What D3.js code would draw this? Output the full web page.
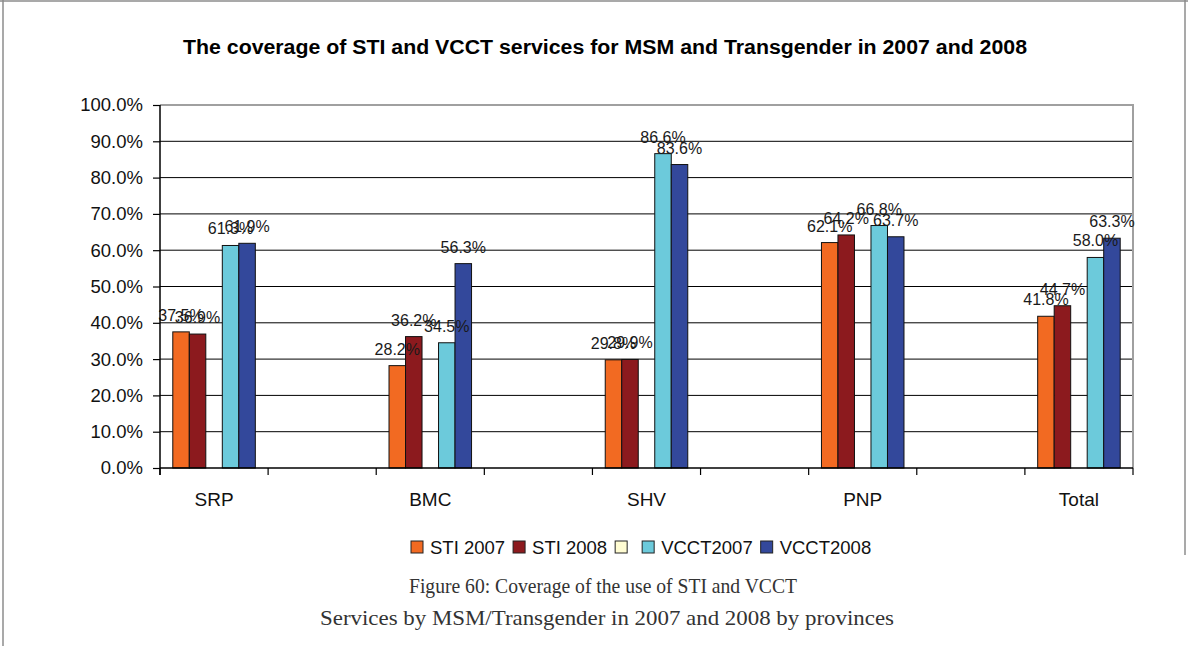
<!DOCTYPE html>
<html>
<head>
<meta charset="utf-8">
<script src="https://cdn.jsdelivr.net/npm/d3@7"></script>
<style>
  html, body { margin: 0; padding: 0; background: #fff; }
  svg { display: block; font-family: "Liberation Sans", Arial, sans-serif; }
</style>
</head>
<body>
<svg id="chart" width="1188" height="646"></svg>
<script>
// Coverage (share of MSM/Transgender reached) by province, 2007 and 2008
const categories = ["SRP", "BMC", "SHV", "PNP", "Total"];
const seriesNames = ["STI 2007", "STI 2008", "", "VCCT2007", "VCCT2008"];
const sti2007  = [0.375, 0.282, 0.298, 0.621, 0.418];
const sti2008  = [0.369, 0.362, 0.299, 0.642, 0.447];
const blank    = [null, null, null, null, null];
const vcct2007 = [0.613, 0.345, 0.866, 0.668, 0.580];
const vcct2008 = [0.619, 0.563, 0.836, 0.637, 0.633];
const yTicks = [0, 0.1, 0.2, 0.3, 0.4, 0.5, 0.6, 0.7, 0.8, 0.9, 1.0];

const seriesValues = [sti2007, sti2008, blank, vcct2007, vcct2008];
const seriesColors = ["#F26A22", "#8C1A1E", "#FFFCD2", "#6CCADB", "#33489B"];

const sans = "'Liberation Sans', Arial, sans-serif";
const serif = "'Liberation Serif', 'Times New Roman', serif";

const svg = d3.select("#chart");

// page frame
svg.append("line").attr("x1", 0).attr("x2", 1188).attr("y1", 1).attr("y2", 1)
  .attr("stroke", "#8c8c8c").attr("stroke-width", 1.5);
svg.append("line").attr("x1", 3).attr("x2", 3).attr("y1", 0).attr("y2", 646)
  .attr("stroke", "#8c8c8c").attr("stroke-width", 1.5);
svg.append("line").attr("x1", 1185).attr("x2", 1185).attr("y1", 0).attr("y2", 555)
  .attr("stroke", "#8c8c8c").attr("stroke-width", 1.5);

// plot geometry
const plotLeft = 160, plotRight = 1133, plotTop = 105, plotBottom = 468;

// category slots alternate with empty spacer slots
const slots = [];
categories.forEach((c, i) => {
  slots.push(c);
  if (i < categories.length - 1) slots.push("__gap" + i);
});

const x0 = d3.scaleBand().domain(slots).range([plotLeft, plotRight]).padding(0);
const x1 = d3.scaleBand().domain(d3.range(seriesNames.length))
  .range([0, x0.bandwidth()]).paddingInner(0).paddingOuter(0.775);
const y = d3.scaleLinear().domain([0, 1]).range([plotBottom, plotTop]);

// gridlines
svg.append("g").selectAll("line").data(yTicks.filter(t => t > 0 && t < 1)).join("line")
  .attr("x1", plotLeft).attr("x2", plotRight)
  .attr("y1", d => y(d)).attr("y2", d => y(d))
  .attr("stroke", "#000").attr("stroke-width", 1);

// plot area border (top and right)
svg.append("path")
  .attr("d", `M${plotLeft},${plotTop}H${plotRight}V${plotBottom}`)
  .attr("fill", "none").attr("stroke", "#a0a0a0").attr("stroke-width", 2);

// bars
const barData = [];
seriesValues.forEach((vals, s) => {
  vals.forEach((v, c) => {
    if (v !== null) barData.push({ s, c, v });
  });
});

svg.append("g").selectAll("rect").data(barData).join("rect")
  .attr("x", d => x0(categories[d.c]) + x1(d.s))
  .attr("y", d => y(d.v))
  .attr("width", x1.bandwidth())
  .attr("height", d => y(0) - y(d.v))
  .attr("fill", d => seriesColors[d.s])
  .attr("stroke", "#111").attr("stroke-width", 1);

// value labels
svg.append("g").selectAll("text").data(barData).join("text")
  .attr("x", d => x0(categories[d.c]) + x1(d.s) + x1.bandwidth() / 2)
  .attr("y", d => y(d.v) - 11)
  .attr("text-anchor", "middle")
  .style("font-family", sans)
  .style("font-size", "16px")
  .attr("fill", "#1a1a1a")
  .text(d => d3.format(".1%")(d.v));

// y axis
const yAxis = d3.axisLeft(y).tickValues(yTicks).tickFormat(d3.format(".1%"))
  .tickSize(7).tickPadding(10);
const gy = svg.append("g").attr("transform", `translate(${plotLeft},0)`).call(yAxis);
gy.select(".domain").attr("stroke", "#000").attr("stroke-width", 1.5)
  .attr("d", `M0,${plotTop}V${plotBottom + 7}`);
gy.selectAll(".tick line").attr("stroke", "#000").attr("stroke-width", 1.2);
gy.selectAll(".tick text").attr("fill", "#111")
  .style("font-size", "18.5px").style("font-family", sans);

// x axis: line, slot boundary ticks, category labels
svg.append("line").attr("x1", plotLeft).attr("x2", plotRight)
  .attr("y1", plotBottom).attr("y2", plotBottom)
  .attr("stroke", "#000").attr("stroke-width", 1.5);
const boundaries = slots.map(s => x0(s)).concat([plotRight]);
svg.append("g").selectAll("line").data(boundaries).join("line")
  .attr("x1", d => d).attr("x2", d => d).attr("y1", plotBottom).attr("y2", plotBottom + 7)
  .attr("stroke", "#000").attr("stroke-width", 1.2);
svg.append("g").selectAll("text").data(categories).join("text")
  .attr("x", d => x0(d) + x0.bandwidth() / 2)
  .attr("y", 506)
  .attr("text-anchor", "middle")
  .style("font-family", sans).style("font-size", "19px")
  .attr("fill", "#111")
  .text(d => d);

// title
svg.append("text")
  .attr("x", 605).attr("y", 54)
  .attr("text-anchor", "middle")
  .style("font-family", sans).style("font-size", "19.5px").style("font-weight", "bold")
  .attr("fill", "#000")
  .attr("textLength", 844).attr("lengthAdjust", "spacingAndGlyphs")
  .text("The coverage of STI and VCCT services for MSM and Transgender in 2007 and 2008");

// legend
const legend = svg.append("g");
let lx = 411;
const ly = 547;
seriesNames.forEach((name, i) => {
  legend.append("rect")
    .attr("x", lx).attr("y", ly - 6).attr("width", 12).attr("height", 12)
    .attr("fill", seriesColors[i]).attr("stroke", "#222").attr("stroke-width", 1);
  lx += 12 + 7;
  const t = legend.append("text")
    .attr("x", lx).attr("y", ly + 6.5)
    .style("font-family", sans).style("font-size", "18.5px")
    .attr("fill", "#111")
    .text(name);
  lx += (name ? t.node().getComputedTextLength() : 0) + 8;
});

// figure caption
const caption = svg.append("g").attr("fill", "#333");
caption.append("text").attr("x", 603).attr("y", 593).attr("text-anchor", "middle")
  .style("font-family", serif).style("font-size", "22px")
  .attr("textLength", 388).attr("lengthAdjust", "spacingAndGlyphs")
  .text("Figure 60: Coverage of the use of STI and VCCT");
caption.append("text").attr("x", 607).attr("y", 625).attr("text-anchor", "middle")
  .style("font-family", serif).style("font-size", "22px")
  .attr("textLength", 574).attr("lengthAdjust", "spacingAndGlyphs")
  .text("Services by MSM/Transgender in 2007 and 2008 by provinces");
</script>
</body>
</html>
